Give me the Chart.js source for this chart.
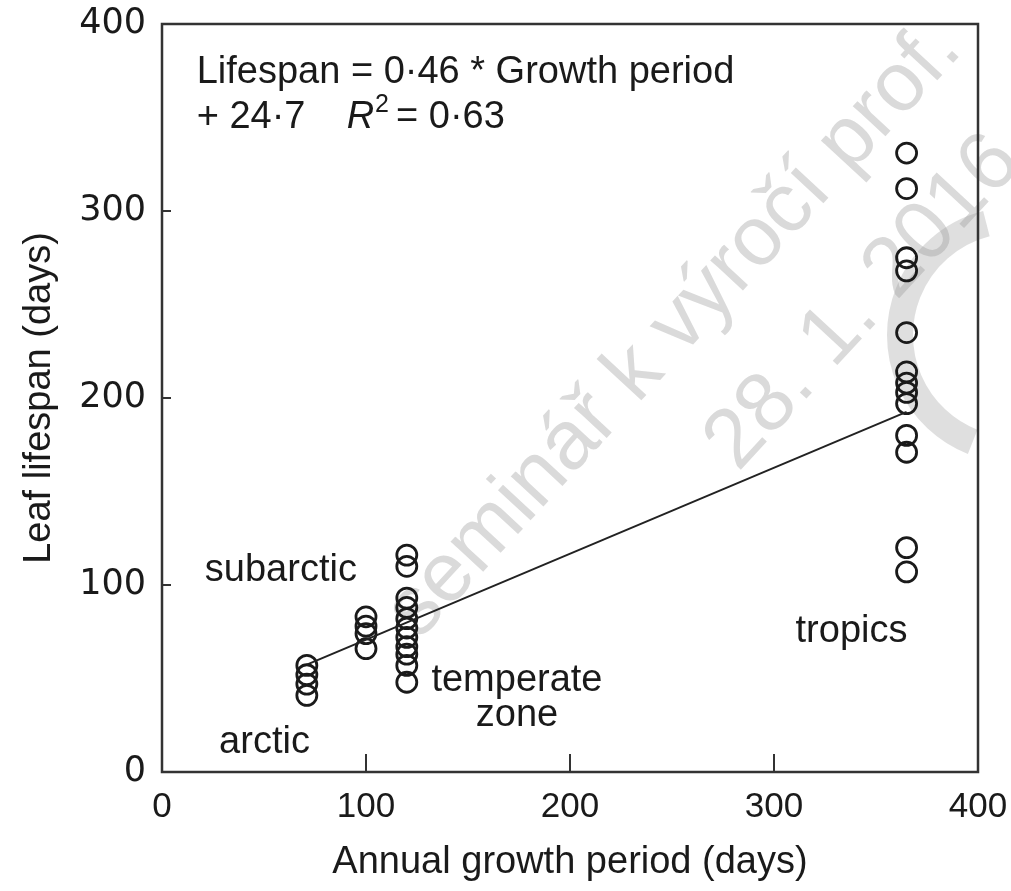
<!DOCTYPE html>
<html>
<head>
<meta charset="utf-8">
<script src="https://cdn.jsdelivr.net/npm/chart.js@4.4.1/dist/chart.umd.min.js"></script>
<style>
  html, body { margin: 0; padding: 0; background: #fff; }
  #wrap { width: 1011px; height: 891px; position: relative; }
</style>
</head>
<body>
<div id="wrap"><canvas id="chart1"></canvas></div>
<script>
// growth period (days) of each zone
const arcticX = 71;
const subarcticX = 100;
const temperateX = 120;
const tropicsX = 365;

// leaf lifespans (days)
const arcticY = [57, 52, 47, 41];
const subarcticY = [83, 78, 74, 66];
const temperateY = [116, 110, 93, 88, 82, 77, 72, 67, 63, 57, 48];
const tropicsY = [331, 312, 275, 268, 235, 214, 208, 203, 197, 180, 171, 120, 107];

// regression line ends
const fitX = [71, 365];
const fitY = [57.4, 192.6];

const axisTicks = [0, 100, 200, 300, 400];

// text labels in data units
const notes = [
  { text: 'subarctic', x: 21, y: 108, align: 'left' },
  { text: 'arctic', x: 28, y: 16, align: 'left' },
  { text: 'temperate', x: 174, y: 49, align: 'center' },
  { text: 'zone', x: 174, y: 30, align: 'center' },
  { text: 'tropics', x: 338, y: 75, align: 'center' }
];

const FONT = "'Liberation Sans', Arial, Helvetica, sans-serif";
const INK = '#1a1a1a';

function toPoints(x, ys) {
  return ys.map(y => ({ x: x, y: y }));
}

const allPoints = [].concat(
  toPoints(arcticX, arcticY),
  toPoints(subarcticX, subarcticY),
  toPoints(temperateX, temperateY),
  toPoints(tropicsX, tropicsY)
);

// marco, marcas hacia dentro y textos
const extras = {
  id: 'extras',
  beforeDatasetsDraw(chart) {
    const ctx = chart.ctx;
    const xs = chart.scales.x, ys = chart.scales.y;
    ctx.save();
    // sello gris del fondo
    ctx.strokeStyle = 'rgba(150,150,150,0.3)';
    ctx.lineWidth = 26;
    ctx.beginPath();
    ctx.arc(1015, 335, 115, 0.62 * Math.PI, 1.42 * Math.PI);
    ctx.stroke();
    // watermark
    ctx.fillStyle = 'rgba(150,150,150,0.35)';
    ctx.font = '84px ' + FONT;
    ctx.textBaseline = 'alphabetic';
    ctx.translate(xs.getPixelForValue(126), ys.getPixelForValue(70));
    ctx.rotate(-0.825);
    ctx.fillText('seminář k výročí prof.', 0, 0);
    ctx.fillText('28. 1. 2016', 340, 120);
    ctx.restore();
  },
  afterDatasetsDraw(chart) {
    const ctx = chart.ctx;
    const a = chart.chartArea;
    const xs = chart.scales.x, ys = chart.scales.y;
    ctx.save();
    ctx.strokeStyle = '#333';
    ctx.lineWidth = 2.5;
    ctx.strokeRect(a.left, a.top, a.right - a.left, a.bottom - a.top);
    ctx.lineWidth = 2;
    [100, 200, 300].forEach(v => {
      const px = xs.getPixelForValue(v);
      ctx.beginPath(); ctx.moveTo(px, a.bottom); ctx.lineTo(px, a.bottom - 18); ctx.stroke();
      const py = ys.getPixelForValue(v);
      ctx.beginPath(); ctx.moveTo(a.left, py); ctx.lineTo(a.left + 9, py); ctx.stroke();
    });

    ctx.fillStyle = INK;
    ctx.font = '38px ' + FONT;
    ctx.textBaseline = 'middle';
    notes.forEach(n => {
      ctx.textAlign = n.align;
      ctx.fillText(n.text, xs.getPixelForValue(n.x), ys.getPixelForValue(n.y));
    });

    // equation
    ctx.textAlign = 'left';
    const ex = xs.getPixelForValue(17);
    ctx.fillText('Lifespan = 0·46 * Growth period', ex, ys.getPixelForValue(374));
    const ly = ys.getPixelForValue(350);
    ctx.fillText('+ 24·7', ex, ly);
    let cx = ex + 150;
    ctx.font = 'italic 38px ' + FONT;
    ctx.fillText('R', cx, ly);
    cx += ctx.measureText('R').width + 1;
    ctx.font = '25px ' + FONT;
    ctx.fillText('2', cx, ly - 12);
    cx += ctx.measureText('2').width + 7;
    ctx.font = '38px ' + FONT;
    ctx.fillText('= 0·63', cx, ly);
    ctx.restore();
  }
};

new Chart(document.getElementById('chart1').getContext('2d'), {
  type: 'scatter',
  data: {
    datasets: [
      {
        type: 'line',
        data: fitX.map((x, i) => ({ x: x, y: fitY[i] })),
        borderColor: '#222',
        borderWidth: 2,
        pointRadius: 0,
        fill: false
      },
      {
        data: allPoints,
        pointStyle: 'circle',
        pointRadius: 10,
        pointBorderWidth: 2.8,
        pointBorderColor: '#1a1a1a',
        pointBackgroundColor: 'rgba(0,0,0,0)'
      }
    ]
  },
  options: {
    responsive: true,
    maintainAspectRatio: false,
    animation: false,
    layout: { padding: { top: 24, right: 33, left: 0, bottom: 0 } },
    plugins: { legend: { display: false }, tooltip: { enabled: false } },
    scales: {
      x: {
        type: 'linear',
        min: 0, max: 400,
        afterBuildTicks: s => { s.ticks = axisTicks.map(v => ({ value: v })); },
        afterFit: s => { s.height = 119; s.paddingLeft = 0; s.paddingRight = 0; },
        grid: { display: false, drawTicks: false },
        border: { display: false },
        ticks: { padding: 14, color: INK, font: { family: FONT, size: 35 } },
        title: {
          display: true,
          text: 'Annual growth period (days)',
          color: INK,
          font: { family: FONT, size: 38 },
          padding: { top: 0, bottom: 6 }
        }
      },
      y: {
        type: 'linear',
        min: 0, max: 400,
        afterBuildTicks: s => { s.ticks = axisTicks.map(v => ({ value: v })); },
        afterFit: s => { s.width = 162; s.paddingTop = 0; s.paddingBottom = 0; },
        grid: { display: false, drawTicks: false },
        border: { display: false },
        ticks: { padding: 16, color: INK, font: { family: "'DejaVu Sans', sans-serif", size: 35 } },
        title: {
          display: true,
          text: 'Leaf lifespan (days)',
          color: INK,
          font: { family: FONT, size: 38 },
          padding: { top: 17, bottom: 0 }
        }
      }
    }
  },
  plugins: [extras]
});
</script>
</body>
</html>
